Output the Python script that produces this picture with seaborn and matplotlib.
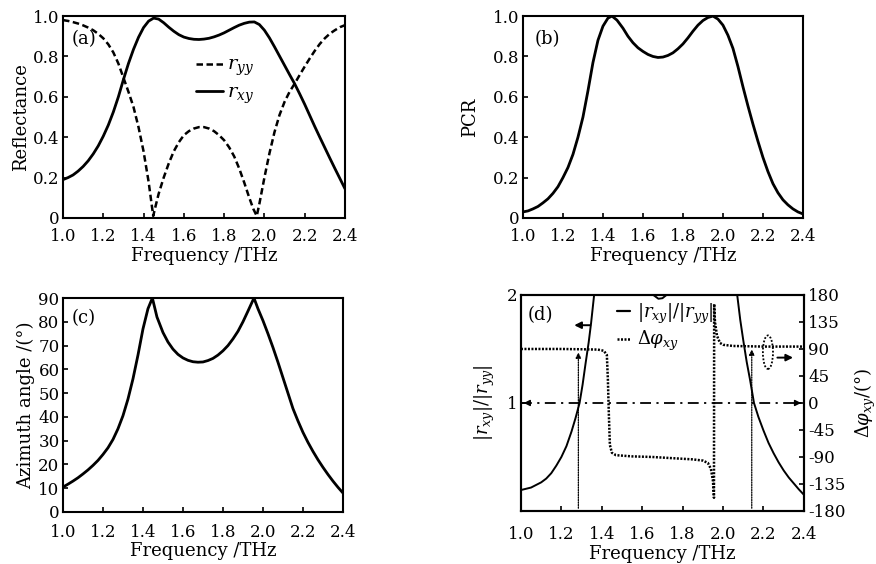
import matplotlib
matplotlib.use('Agg')
import matplotlib.pyplot as plt
from matplotlib.patches import Ellipse
import seaborn as sns

# ---------------------------------------------------------------
# data
# ---------------------------------------------------------------
freq_rxy = [1.0, 1.025, 1.05, 1.075, 1.1, 1.125, 1.15, 1.175, 1.2, 1.225, 1.25, 1.275,
            1.3, 1.325, 1.35, 1.375, 1.4, 1.425, 1.45, 1.475, 1.5, 1.525, 1.55, 1.575,
            1.6, 1.625, 1.65, 1.675, 1.7, 1.725, 1.75, 1.775, 1.8, 1.825, 1.85, 1.875,
            1.9, 1.925, 1.95, 1.975, 2.0, 2.025, 2.05, 2.075, 2.1, 2.125, 2.15, 2.175,
            2.2, 2.225, 2.25, 2.275, 2.3, 2.325, 2.35, 2.375, 2.4]
r_xy = [0.19, 0.20, 0.213, 0.232, 0.255, 0.283, 0.317, 0.357, 0.405, 0.46, 0.525, 0.60,
        0.685, 0.765, 0.835, 0.895, 0.943, 0.975, 0.99, 0.985, 0.967, 0.945, 0.925, 0.908,
        0.896, 0.889, 0.885, 0.884, 0.886, 0.89, 0.897, 0.906, 0.917, 0.93, 0.943, 0.955,
        0.964, 0.97, 0.971, 0.958, 0.93, 0.892, 0.848, 0.802, 0.756, 0.71, 0.665, 0.615,
        0.563, 0.508, 0.453, 0.40, 0.348, 0.296, 0.245, 0.195, 0.145]

freq_ryy = [1.0, 1.025, 1.05, 1.075, 1.1, 1.125, 1.15, 1.175, 1.2, 1.225, 1.25, 1.275,
            1.3, 1.325, 1.35, 1.375, 1.4, 1.425, 1.448, 1.46, 1.475, 1.5, 1.525, 1.55,
            1.575, 1.6, 1.625, 1.65, 1.675, 1.7, 1.725, 1.75, 1.775, 1.8, 1.825, 1.85,
            1.875, 1.9, 1.925, 1.945, 1.962, 1.975, 2.0, 2.025, 2.05, 2.075, 2.1, 2.125,
            2.15, 2.175, 2.2, 2.225, 2.25, 2.275, 2.3, 2.325, 2.35, 2.375, 2.4]
r_yy = [0.98, 0.976, 0.97, 0.963, 0.954, 0.943, 0.93, 0.912, 0.89, 0.86, 0.82, 0.765,
        0.695, 0.625, 0.55, 0.45, 0.33, 0.18, 0.01, 0.06, 0.12, 0.20, 0.27, 0.33,
        0.375, 0.41, 0.43, 0.443, 0.45, 0.45, 0.443, 0.43, 0.41, 0.385, 0.35, 0.305,
        0.245, 0.175, 0.10, 0.045, 0.01, 0.07, 0.20, 0.32, 0.425, 0.51, 0.575, 0.625,
        0.665, 0.708, 0.75, 0.79, 0.828, 0.862, 0.89, 0.913, 0.93, 0.945, 0.955]

freq_pcr = [1.0, 1.025, 1.05, 1.075, 1.1, 1.125, 1.15, 1.175, 1.2, 1.225, 1.25, 1.275,
            1.3, 1.325, 1.35, 1.375, 1.4, 1.425, 1.445, 1.47, 1.5, 1.525, 1.55, 1.575,
            1.6, 1.625, 1.65, 1.675, 1.7, 1.725, 1.75, 1.775, 1.8, 1.825, 1.85, 1.875,
            1.9, 1.925, 1.95, 1.975, 2.0, 2.025, 2.05, 2.075, 2.1, 2.125, 2.15, 2.175,
            2.2, 2.225, 2.25, 2.275, 2.3, 2.325, 2.35, 2.375, 2.4]
pcr = [0.03, 0.035, 0.045, 0.057, 0.075, 0.095, 0.122, 0.155, 0.20, 0.25, 0.315, 0.40,
       0.50, 0.63, 0.77, 0.88, 0.95, 0.99, 1.0, 0.98, 0.94, 0.90, 0.868, 0.843,
       0.825, 0.81, 0.80, 0.795, 0.797, 0.805, 0.818, 0.838, 0.862, 0.892, 0.925, 0.955,
       0.978, 0.993, 1.0, 0.985, 0.955, 0.905, 0.84, 0.75, 0.65, 0.555, 0.465, 0.38,
       0.30, 0.23, 0.17, 0.125, 0.09, 0.065, 0.045, 0.03, 0.02]

freq_azi = [1.0, 1.025, 1.05, 1.075, 1.1, 1.125, 1.15, 1.175, 1.2, 1.225, 1.25, 1.275,
            1.3, 1.325, 1.35, 1.375, 1.4, 1.425, 1.447, 1.47, 1.5, 1.525, 1.55, 1.575,
            1.6, 1.625, 1.65, 1.675, 1.7, 1.725, 1.75, 1.775, 1.8, 1.825, 1.85, 1.875,
            1.9, 1.925, 1.955, 1.975, 2.0, 2.025, 2.05, 2.075, 2.1, 2.125, 2.15, 2.175,
            2.2, 2.225, 2.25, 2.275, 2.3, 2.325, 2.35, 2.375, 2.4]
azimuth = [10.5, 11.7, 13, 14.4, 16, 17.7, 19.6, 21.7, 24.2, 27, 30.5, 35,
           40.5, 47.5, 56, 66, 77, 85.5, 90, 82, 75.5, 71.5, 68.5, 66.3,
           64.8, 63.8, 63.2, 63, 63.1, 63.7, 64.6, 66, 67.8, 70, 72.8, 76,
           80, 84.5, 90, 85.5, 80.5, 75, 69.2, 63, 56.5, 50, 43.5, 38.3,
           33.5, 29.3, 25.5, 22, 18.8, 15.8, 13, 10.4, 8]

# |r_xy|/|r_yy| in three visible pieces (goes off the top near the dips)
freq_ratio_1 = [1.0, 1.05, 1.1, 1.125, 1.15, 1.175, 1.2, 1.225, 1.25, 1.27, 1.29,
                1.305, 1.32, 1.335, 1.347, 1.362, 1.38]
ratio_1 = [0.194, 0.217, 0.265, 0.30, 0.35, 0.42, 0.50, 0.60, 0.735, 0.86, 1.0,
           1.17, 1.37, 1.56, 1.74, 2.0, 2.4]
freq_ratio_2 = [1.62, 1.655, 1.68, 1.70, 1.72, 1.75]
ratio_2 = [2.2, 2.0, 1.965, 1.97, 2.0, 2.2]
freq_ratio_3 = [2.05, 2.07, 2.085, 2.1, 2.117, 2.134, 2.153, 2.175, 2.2, 2.225, 2.25,
                2.275, 2.3, 2.325, 2.35, 2.375, 2.4]
ratio_3 = [2.5, 2.0, 1.77, 1.58, 1.38, 1.21, 1.0, 0.87, 0.745, 0.63, 0.535,
           0.45, 0.375, 0.31, 0.255, 0.20, 0.15]

freq_phase = [1.0, 1.1, 1.2, 1.3, 1.38, 1.41, 1.425, 1.43, 1.435, 1.44, 1.45, 1.47,
              1.55, 1.65, 1.75, 1.85, 1.9, 1.925, 1.94, 1.95, 1.955, 1.956, 1.96,
              1.97, 1.985, 2.0, 2.05, 2.2, 2.4]
phase = [90, 90, 90, 89.5, 89, 87, 80, 40, -20, -70, -83, -87,
         -89, -90, -92, -94, -96, -100, -110, -130, -158, 165, 135,
         112, 100, 97, 95, 94, 94]

cross_freqs = [1.284, 2.142]     # where |r_xy| = |r_yy|
cross_tips = [89, 94]

freq_ticks = [1.0, 1.2, 1.4, 1.6, 1.8, 2.0, 2.2, 2.4]
refl_ticks = [0, 0.2, 0.4, 0.6, 0.8, 1.0]
refl_labels = ['0', '0.2', '0.4', '0.6', '0.8', '1.0']
azi_ticks = [0, 10, 20, 30, 40, 50, 60, 70, 80, 90]
phase_ticks = [-180, -135, -90, -45, 0, 45, 90, 135, 180]

# ---------------------------------------------------------------
# style
# ---------------------------------------------------------------
sns.set_style('ticks')
plt.rcParams['font.family'] = ['DejaVu Serif']
plt.rcParams['mathtext.fontset'] = 'dejavuserif'
plt.rcParams['axes.unicode_minus'] = False
plt.rcParams['font.size'] = 13
plt.rcParams['axes.labelsize'] = 13
plt.rcParams['xtick.labelsize'] = 12
plt.rcParams['ytick.labelsize'] = 12
plt.rcParams['xtick.direction'] = 'in'
plt.rcParams['ytick.direction'] = 'in'
plt.rcParams['xtick.major.size'] = 3.5
plt.rcParams['ytick.major.size'] = 3.5
plt.rcParams['xtick.major.width'] = 1.2
plt.rcParams['ytick.major.width'] = 1.2
for key in ['axes.edgecolor', 'xtick.color', 'ytick.color', 'text.color', 'axes.labelcolor']:
    plt.rcParams[key] = 'black'
plt.rcParams['axes.linewidth'] = 1.5

fig = plt.figure(figsize=(8.76, 5.64), dpi=100)
ax_a = fig.add_axes([0.0719, 0.6135, 0.3219, 0.358])
ax_b = fig.add_axes([0.597, 0.6135, 0.3196, 0.358])
ax_c = fig.add_axes([0.0719, 0.0922, 0.3196, 0.3794])
ax_d = fig.add_axes([0.5947, 0.094, 0.323, 0.383])


def frame(ax, xpad):
    ax.set_xlim(1.0, 2.4)
    ax.set_xticks(freq_ticks)
    ax.set_xticklabels([f'{t:.1f}' for t in freq_ticks])
    ax.set_xlabel('Frequency /THz', labelpad=1)
    ax.tick_params(axis='x', pad=xpad)
    ax.tick_params(axis='y', pad=2.5)
    for s in ax.spines.values():
        s.set_visible(True)
        s.set_linewidth(1.5)


# (a) reflectance
sns.lineplot(x=freq_ryy, y=r_yy, ax=ax_a, color='black', lw=1.8,
             linestyle=(0, (2.6, 1.4)), label=r'$r_{yy}$', estimator=None, sort=False)
sns.lineplot(x=freq_rxy, y=r_xy, ax=ax_a, color='black', lw=2,
             label=r'$r_{xy}$', estimator=None, sort=False)
frame(ax_a, 7.5)
ax_a.set_ylim(0, 1.0)
ax_a.set_yticks(refl_ticks)
ax_a.set_yticklabels(refl_labels)
ax_a.set_ylabel('Reflectance', labelpad=2)
ax_a.legend(loc='upper left', bbox_to_anchor=(0.47, 0.80), frameon=False,
            handlelength=1.4, handletextpad=0.2, borderpad=0, borderaxespad=0,
            labelspacing=0.3, fontsize=14)
ax_a.text(0.03, 0.93, '(a)', transform=ax_a.transAxes, va='top', ha='left', fontsize=13)

# (b) PCR
sns.lineplot(x=freq_pcr, y=pcr, ax=ax_b, color='black', lw=2, estimator=None, sort=False)
frame(ax_b, 7.5)
ax_b.set_ylim(0, 1.0)
ax_b.set_yticks(refl_ticks)
ax_b.set_yticklabels(refl_labels)
ax_b.set_ylabel('PCR', labelpad=10)
ax_b.text(0.04, 0.93, '(b)', transform=ax_b.transAxes, va='top', ha='left', fontsize=13)

# (c) azimuth angle
sns.lineplot(x=freq_azi, y=azimuth, ax=ax_c, color='black', lw=2, estimator=None, sort=False)
frame(ax_c, 8.5)
ax_c.set_ylim(0, 90)
ax_c.set_yticks(azi_ticks)
ax_c.set_ylabel('Azimuth angle /(°)', labelpad=2)
ax_c.text(0.03, 0.95, '(c)', transform=ax_c.transAxes, va='top', ha='left', fontsize=13)

# (d) amplitude ratio and phase difference
ax_p = ax_d.twinx()
for fr, rv in [(freq_ratio_1, ratio_1), (freq_ratio_2, ratio_2), (freq_ratio_3, ratio_3)]:
    sns.lineplot(x=fr, y=rv, ax=ax_d, color='black', lw=1.4, estimator=None, sort=False)
sns.lineplot(x=[1.0, 2.4], y=[1, 1], ax=ax_d, color='black', lw=1.3,
             linestyle=(0, (6, 3, 1.2, 3)), estimator=None, sort=False)
ax_d.annotate('', xy=(1.0, 1), xytext=(1.05, 1),
              arrowprops=dict(arrowstyle='-|>', color='black', lw=1, mutation_scale=9))
ax_d.annotate('', xy=(2.4, 1), xytext=(2.35, 1),
              arrowprops=dict(arrowstyle='-|>', color='black', lw=1, mutation_scale=9))
frame(ax_d, 11)
ax_d.set_ylim(0, 2)
ax_d.set_yticks([1, 2])
ax_d.set_ylabel(r'$|r_{xy}|/|r_{yy}|$', labelpad=7)

sns.lineplot(x=freq_phase, y=phase, ax=ax_p, color='black', lw=1.8,
             linestyle=(0, (0.8, 0.6)), estimator=None, sort=False)
for fx, tip in zip(cross_freqs, cross_tips):
    ax_p.annotate('', xy=(fx, tip), xytext=(fx, -180),
                  arrowprops=dict(arrowstyle='-|>', color='black', lw=0.9,
                                  linestyle=(0, (1, 1)), mutation_scale=8))
ax_p.set_ylim(-180, 180)
ax_p.set_yticks(phase_ticks)
ax_p.tick_params(axis='y', pad=3)
ax_p.set_ylabel(r'$\Delta\varphi_{xy}$/(°)', labelpad=5)
for s in ax_p.spines.values():
    s.set_linewidth(1.5)

# markers pointing to the axes each curve belongs to
ax_d.annotate('', xy=(1.25, 1.72), xytext=(1.357, 1.72),
              arrowprops=dict(arrowstyle='-|>', color='black', lw=1.4, mutation_scale=10))
ax_d.add_patch(Ellipse((2.222, 1.47), 0.05, 0.31, fill=False, color='black',
                       lw=1.3, linestyle=(0, (1, 1))))
ax_d.annotate('', xy=(2.36, 1.42), xytext=(2.255, 1.42),
              arrowprops=dict(arrowstyle='-|>', color='black', lw=1.4, mutation_scale=10))
ax_d.text(0.025, 0.95, '(d)', transform=ax_d.transAxes, va='top', ha='left', fontsize=13)

handles = [plt.Line2D([], [], color='black', lw=1.6),
           plt.Line2D([], [], color='black', lw=1.8, linestyle=(0, (0.8, 0.6)))]
ax_d.legend(handles, [r'$|r_{xy}|/|r_{yy}|$', r'$\Delta\varphi_{xy}$'], loc='upper left',
            bbox_to_anchor=(0.34, 0.97), frameon=False, handlelength=0.7,
            handletextpad=0.4, borderpad=0, borderaxespad=0, labelspacing=0.2, fontsize=13)
ax_d.set_zorder(ax_p.get_zorder() + 1)
ax_d.patch.set_visible(False)

fig.savefig('out.png', dpi=100)
